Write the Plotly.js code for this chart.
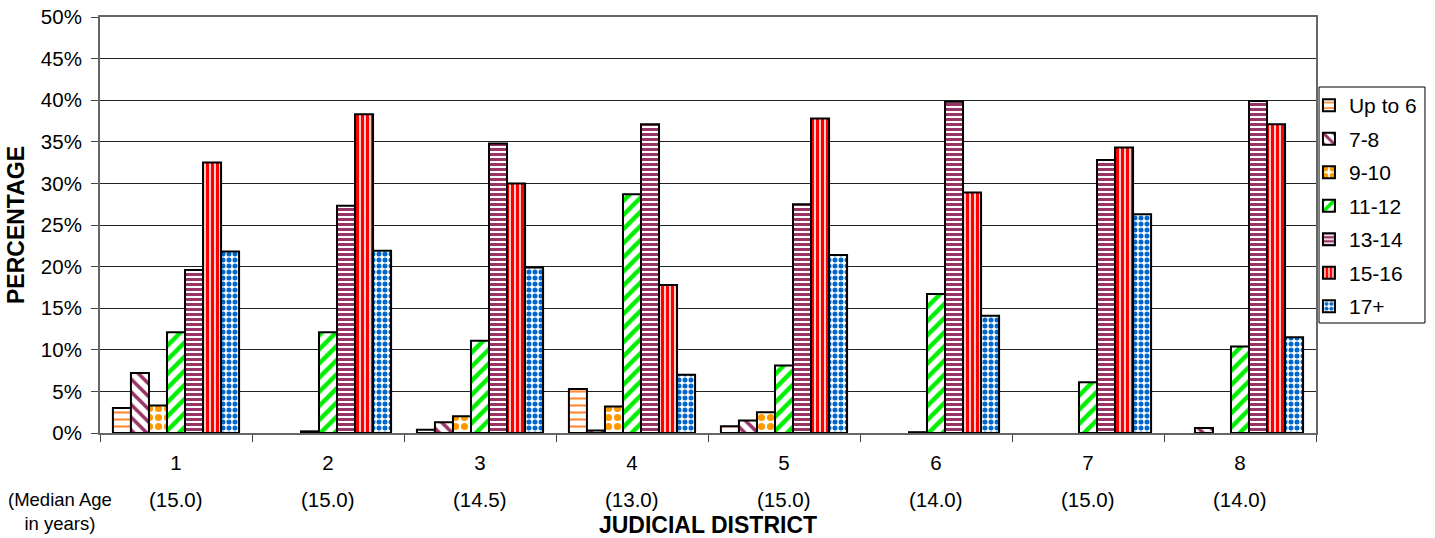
<!DOCTYPE html>
<html><head><meta charset="utf-8">
<script src="https://cdn.plot.ly/plotly-3.0.1.min.js"></script>
<style>html,body{margin:0;padding:0;background:#fff}#chart{width:1435px;height:538px}</style>
</head><body><div id="chart"></div>
<script>
// ---- data ----
const districts = ['1','2','3','4','5','6','7','8'];
const medianAges = ['(15.0)','(15.0)','(14.5)','(13.0)','(15.0)','(14.0)','(15.0)','(14.0)'];
const ageGroups = ['Up to 6','7-8','9-10','11-12','13-14','15-16','17+'];
const upTo6    = [3.0, null, 0.4, 5.3, 0.8, null, null, null];
const age7to8  = [7.2, null, 1.3, 0.3, 1.5, null, null, 0.6];
const age9to10 = [3.3, 0.2,  2.0, 3.2, 2.5, 0.1,  null, null];
const age11to12 = [12.1, 12.1, 11.1, 28.7, 8.1, 16.7, 6.1, 10.4];
const age13to14 = [19.6, 27.3, 34.8, 37.1, 27.5, 39.8, 32.8, 39.9];
const age15to16 = [32.5, 38.3, 30.0, 17.8, 37.8, 28.9, 34.3, 37.1];
const age17plus = [21.8, 21.9, 19.9, 7.0, 21.4, 14.1, 26.3, 11.5];
const yTickVals = [0,5,10,15,20,25,30,35,40,45,50];
const yTickText = ['0%','5%','10%','15%','20%','25%','30%','35%','40%','45%','50%'];

const seriesValues = [upTo6, age7to8, age9to10, age11to12, age13to14, age15to16, age17plus];
// ---- styles ----
const patterns = [
  {shape:'-', fgcolor:'#FF8833', bgcolor:'#FFFFFF', size:7, solidity:0.3, fillmode:'replace'},
  {shape:'\\', fgcolor:'#993366', bgcolor:'#FFFFFF', size:9, solidity:0.4, fillmode:'replace'},
  {shape:'.', fgcolor:'#FF9900', bgcolor:'#FFFFFF', size:9, solidity:0.5, fillmode:'replace'},
  {shape:'/', fgcolor:'#00EE00', bgcolor:'#FFFFFF', size:10, solidity:0.45, fillmode:'replace'},
  {shape:'-', fgcolor:'#993366', bgcolor:'#FFFFFF', size:5, solidity:0.6, fillmode:'replace'},
  {shape:'|', fgcolor:'#FF0000', bgcolor:'#FFFFFF', size:5, solidity:0.68, fillmode:'replace'},
  {shape:'.', fgcolor:'#0066CC', bgcolor:'#FFFFFF', size:6, solidity:0.55, fillmode:'replace'}
];

const traces = ageGroups.map((name, i) => ({
  type: 'bar',
  name: name,
  x: districts,
  y: seriesValues[i],
  legendgroup: 'g' + i,
  marker: {
    color: '#FFFFFF',
    pattern: patterns[i],
    line: {color: '#000000', width: 2}
  },
  hoverinfo: 'x+y+name'
}));

const annotations = districts.map((d, i) => ({
  x: i, xref: 'x', y: -0.1587, yref: 'paper',
  text: medianAges[i], showarrow: false, xanchor: 'center', yanchor: 'middle',
  font: {family: 'Liberation Sans, Arial, sans-serif', size: 20.5, color: '#000'}
}));
annotations.push({
  x: -0.033, xref: 'paper', y: -0.1875, yref: 'paper',
  text: '(Median Age<br>in years)', showarrow: false, xanchor: 'center', yanchor: 'middle',
  font: {family: 'Liberation Sans, Arial, sans-serif', size: 18.5, color: '#000'}
});

const layout = {
  width: 1435, height: 538,
  margin: {l: 100, r: 119, t: 17, b: 105, autoexpand: false},
  paper_bgcolor: '#FFFFFF', plot_bgcolor: '#FFFFFF',
  font: {family: 'Liberation Sans, Arial, sans-serif', size: 20.5, color: '#000'},
  barmode: 'group', bargap: 0.17, bargroupgap: 0,
  showlegend: true,
  legend: {
    x: 0.9942, xanchor: 'left', y: 0.8362, yanchor: 'top',
    borderwidth: 0, bgcolor: 'rgba(0,0,0,0)',
    font: {size: 21}, traceorder: 'grouped', tracegroupgap: 3.2,
    itemclick: false
  },
  shapes: [{
    type: 'rect', xref: 'paper', yref: 'paper',
    x0: 1.0025, x1: 1.0896, y0: 0.2644, y1: 0.8317,
    line: {color: '#000', width: 1}, fillcolor: 'rgba(0,0,0,0)', layer: 'above'
  }],
  xaxis: {
    type: 'category',
    showline: true, linecolor: '#666', linewidth: 2, mirror: true,
    ticks: 'outside', tickson: 'boundaries', ticklen: 7, tickcolor: '#444', tickwidth: 1,
    ticklabelstandoff: 10,
    showgrid: false, zeroline: false,
    title: {text: '<b>JUDICIAL DISTRICT</b>', font: {size: 23}, standoff: 44}
  },
  yaxis: {
    range: [0, 50], tickvals: yTickVals, ticktext: yTickText,
    showline: true, linecolor: '#666', linewidth: 2, mirror: true,
    ticks: 'outside', ticklen: 7, tickcolor: '#444',
    ticklabelstandoff: 5,
    showgrid: true, gridcolor: '#222', gridwidth: 1, zeroline: false,
    title: {text: '<b>PERCENTAGE</b>', font: {size: 23}, standoff: 10}
  },
  annotations: annotations
};

Plotly.newPlot('chart', traces, layout, {displayModeBar: false, staticPlot: true});
</script>
</body></html>
